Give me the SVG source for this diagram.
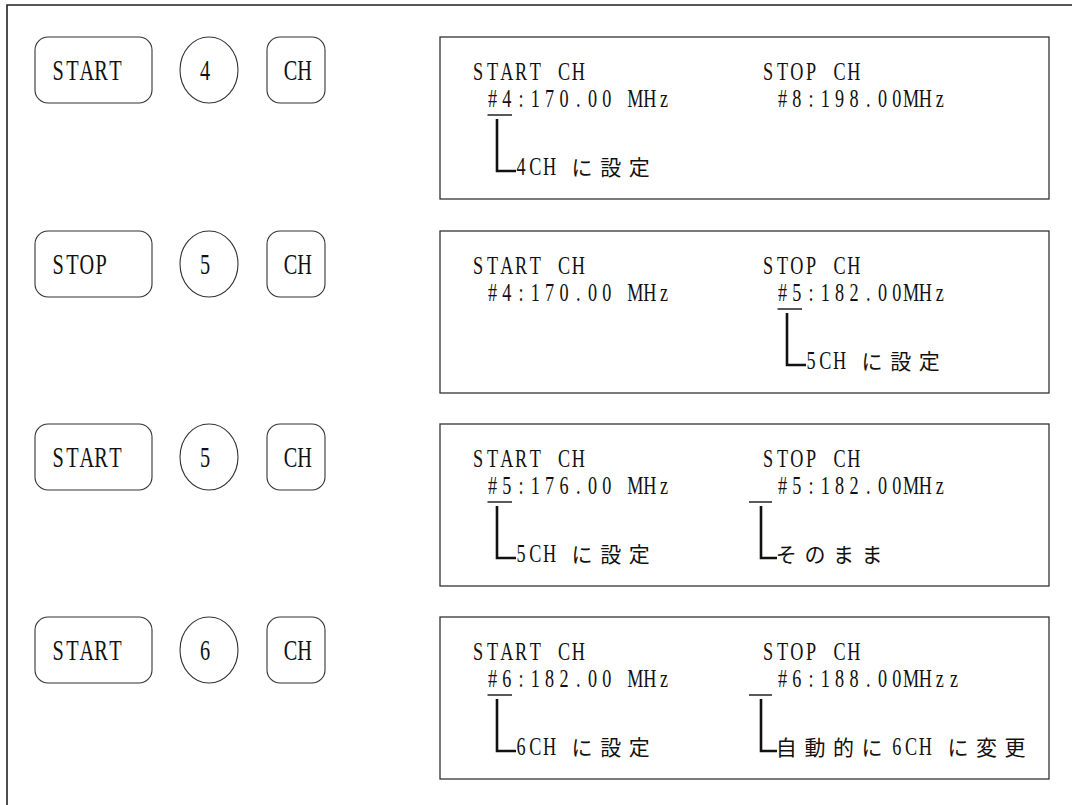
<svg xmlns="http://www.w3.org/2000/svg" width="1072" height="805" viewBox="0 0 1072 805">
<style>
.frame{fill:none;stroke:#222;stroke-width:1.6}
.box{fill:none;stroke:#333;stroke-width:1.3}
.btn{fill:none;stroke:#333;stroke-width:1.1}
.t{font-family:"Liberation Serif","Times New Roman",serif;font-size:26px;fill:#111;text-anchor:middle}
.tb{font-family:"Liberation Serif","Times New Roman",serif;font-size:29px;fill:#111;text-anchor:middle}
.cjk{font-family:"Noto Sans CJK JP","Noto Sans CJK SC",sans-serif;font-size:21px;fill:#111;text-anchor:middle}
.ul{stroke:#222;stroke-width:1.5;fill:none}
.lead{stroke:#111;stroke-width:2.6;fill:none}
</style>
<rect width="1072" height="805" fill="#fff"/>
<path class="frame" d="M1072 5 H7 V805"/>

<g id="row1-keys">
  <g id="key-start-1"><rect class="btn" x="35" y="37" width="117" height="66" rx="13"/><text class="tb" transform="translate(51,80) scale(0.7,1)" x="10.21 30.64 51.07 71.50 91.93">START</text></g>
  <g id="key-4"><ellipse class="btn" cx="209" cy="70" rx="29" ry="33"/><text class="tb" transform="translate(205,80) scale(0.7,1)" x="0">4</text></g>
  <g id="key-ch-1"><rect class="btn" x="267" y="37" width="58" height="66" rx="13"/><text class="tb" transform="translate(283.5,80) scale(0.7,1)" x="10 30">CH</text></g>
</g>
<g id="row2-keys">
  <g id="key-stop-2"><rect class="btn" x="35" y="231" width="117" height="66" rx="13"/><text class="tb" transform="translate(51,274) scale(0.7,1)" x="10.21 30.64 51.07 71.50">STOP</text></g>
  <g id="key-5a"><ellipse class="btn" cx="209" cy="264" rx="29" ry="33"/><text class="tb" transform="translate(205,274) scale(0.7,1)" x="0">5</text></g>
  <g id="key-ch-2"><rect class="btn" x="267" y="231" width="58" height="66" rx="13"/><text class="tb" transform="translate(283.5,274) scale(0.7,1)" x="10 30">CH</text></g>
</g>
<g id="row3-keys">
  <g id="key-start-3"><rect class="btn" x="35" y="424" width="117" height="66" rx="13"/><text class="tb" transform="translate(51,467) scale(0.7,1)" x="10.21 30.64 51.07 71.50 91.93">START</text></g>
  <g id="key-5b"><ellipse class="btn" cx="209" cy="457" rx="29" ry="33"/><text class="tb" transform="translate(205,467) scale(0.7,1)" x="0">5</text></g>
  <g id="key-ch-3"><rect class="btn" x="267" y="424" width="58" height="66" rx="13"/><text class="tb" transform="translate(283.5,467) scale(0.7,1)" x="10 30">CH</text></g>
</g>
<g id="row4-keys">
  <g id="key-start-4"><rect class="btn" x="35" y="617" width="117" height="66" rx="13"/><text class="tb" transform="translate(51,660) scale(0.7,1)" x="10.21 30.64 51.07 71.50 91.93">START</text></g>
  <g id="key-6"><ellipse class="btn" cx="209" cy="650" rx="29" ry="33"/><text class="tb" transform="translate(205,660) scale(0.7,1)" x="0">6</text></g>
  <g id="key-ch-4"><rect class="btn" x="267" y="617" width="58" height="66" rx="13"/><text class="tb" transform="translate(283.5,660) scale(0.7,1)" x="10 30">CH</text></g>
</g>

<g id="display1">
  <rect class="box" x="440" y="37" width="609" height="162"/>
  <text class="t" transform="translate(471,80) scale(0.7,1)" x="10.21 30.64 51.07 71.50 91.93 112.36 132.79 153.21">START CH</text>
  <text class="t" transform="translate(485.3,107) scale(0.7,1)" x="10.21 30.64 51.07 71.50 91.93 112.36 132.79 153.21 173.64 194.07 214.50 234.93 255.36">#4:170.00 MHz</text>
  <text class="t" transform="translate(761,80) scale(0.7,1)" x="10.21 30.64 51.07 71.50 91.93 112.36 132.79">STOP CH</text>
  <text class="t" transform="translate(775.3,107) scale(0.7,1)" x="10.21 30.64 51.07 71.50 91.93 112.36 132.79 153.21 173.64 194.07 214.50 234.93">#8:198.00MHz</text>
  <text class="t" transform="translate(513.9,175) scale(0.7,1)" x="10.21 30.64 51.07">4CH</text>
  <text class="cjk" x="582.1 610.7 639.3" y="175">に設定</text>
</g>

<g id="display2">
  <rect class="box" x="440" y="231" width="609" height="162"/>
  <text class="t" transform="translate(471,274) scale(0.7,1)" x="10.21 30.64 51.07 71.50 91.93 112.36 132.79 153.21">START CH</text>
  <text class="t" transform="translate(485.3,301) scale(0.7,1)" x="10.21 30.64 51.07 71.50 91.93 112.36 132.79 153.21 173.64 194.07 214.50 234.93 255.36">#4:170.00 MHz</text>
  <text class="t" transform="translate(761,274) scale(0.7,1)" x="10.21 30.64 51.07 71.50 91.93 112.36 132.79">STOP CH</text>
  <text class="t" transform="translate(775.3,301) scale(0.7,1)" x="10.21 30.64 51.07 71.50 91.93 112.36 132.79 153.21 173.64 194.07 214.50 234.93">#5:182.00MHz</text>
  <text class="t" transform="translate(803.9,369) scale(0.7,1)" x="10.21 30.64 51.07">5CH</text>
  <text class="cjk" x="872.1 900.7 929.3" y="369">に設定</text>
</g>

<g id="display3">
  <rect class="box" x="440" y="424" width="609" height="162"/>
  <text class="t" transform="translate(471,467) scale(0.7,1)" x="10.21 30.64 51.07 71.50 91.93 112.36 132.79 153.21">START CH</text>
  <text class="t" transform="translate(485.3,494) scale(0.7,1)" x="10.21 30.64 51.07 71.50 91.93 112.36 132.79 153.21 173.64 194.07 214.50 234.93 255.36">#5:176.00 MHz</text>
  <text class="t" transform="translate(761,467) scale(0.7,1)" x="10.21 30.64 51.07 71.50 91.93 112.36 132.79">STOP CH</text>
  <text class="t" transform="translate(775.3,494) scale(0.7,1)" x="10.21 30.64 51.07 71.50 91.93 112.36 132.79 153.21 173.64 194.07 214.50 234.93">#5:182.00MHz</text>
  <text class="t" transform="translate(513.9,562) scale(0.7,1)" x="10.21 30.64 51.07">5CH</text>
  <text class="cjk" x="582.1 610.7 639.3" y="562">に設定</text>
  <text class="cjk" x="786.3 814.9 843.5 872.1" y="562">そのまま</text>
</g>

<g id="display4">
  <rect class="box" x="440" y="617" width="609" height="162"/>
  <text class="t" transform="translate(471,660) scale(0.7,1)" x="10.21 30.64 51.07 71.50 91.93 112.36 132.79 153.21">START CH</text>
  <text class="t" transform="translate(485.3,687) scale(0.7,1)" x="10.21 30.64 51.07 71.50 91.93 112.36 132.79 153.21 173.64 194.07 214.50 234.93 255.36">#6:182.00 MHz</text>
  <text class="t" transform="translate(761,660) scale(0.7,1)" x="10.21 30.64 51.07 71.50 91.93 112.36 132.79">STOP CH</text>
  <text class="t" transform="translate(775.3,687) scale(0.7,1)" x="10.21 30.64 51.07 71.50 91.93 112.36 132.79 153.21 173.64 194.07 214.50 234.93 255.36">#6:188.00MHzz</text>
  <text class="t" transform="translate(513.9,755) scale(0.7,1)" x="10.21 30.64 51.07">6CH</text>
  <text class="cjk" x="582.1 610.7 639.3" y="755">に設定</text>
  <text class="cjk" x="786.3 814.9 843.5 872.1" y="755">自動的に</text>
  <text class="t" transform="translate(889.7,755) scale(0.7,1)" x="10.21 30.64 51.07">6CH</text>
  <text class="cjk" x="957.9 986.5 1015.1" y="755">に変更</text>
</g>

<g id="connectors">
  <line class="ul" x1="487.5" y1="115" x2="512" y2="115"/>
  <path class="lead" d="M497 119 V171 H516"/>
  <line class="ul" x1="777.5" y1="309" x2="802" y2="309"/>
  <path class="lead" d="M787 313 V365 H806"/>
  <line class="ul" x1="487.5" y1="502" x2="512" y2="502"/>
  <path class="lead" d="M497 506 V558 H516"/>
  <line class="ul" x1="749" y1="502" x2="772" y2="502"/>
  <path class="lead" d="M761 506 V558 H777"/>
  <line class="ul" x1="487.5" y1="695" x2="512" y2="695"/>
  <path class="lead" d="M497 699 V751 H516"/>
  <line class="ul" x1="749" y1="695" x2="772" y2="695"/>
  <path class="lead" d="M761 699 V751 H777"/>
</g>
</svg>
